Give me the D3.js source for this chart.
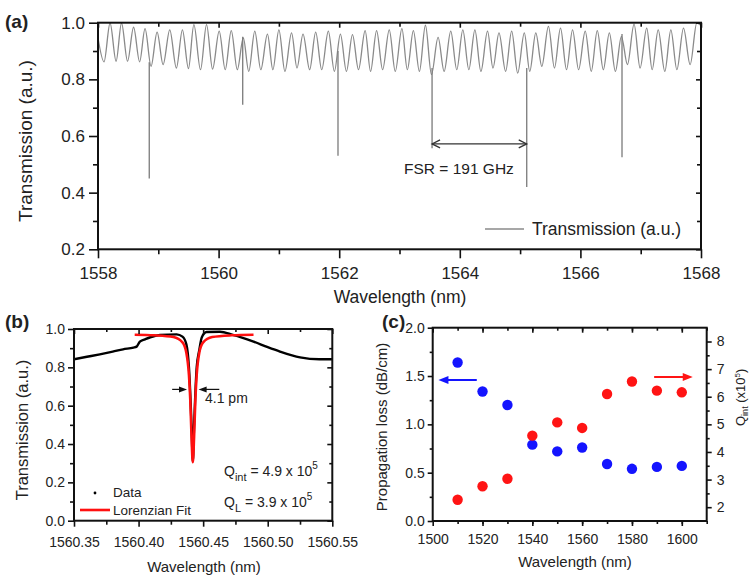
<!DOCTYPE html>
<html>
<head>
<meta charset="utf-8">
<title></title>
<script src="https://d3js.org/d3.v7.min.js"></script>
<style>
  body { margin: 0; background: #fff; }
  text { font-family: "Liberation Sans", Arial, sans-serif; fill: #222; }
</style>
</head>
<body>
<div id="fig"></div>
<script>
// ---- panel (a): broad transmission scan, peaks and troughs of the fringes
var aWl = [1558.00,1558.10,1558.20,1558.30,1558.39,1558.49,1558.59,1558.69,1558.78,1558.88,
  1558.98,1559.08,1559.19,1559.30,1559.40,1559.50,1559.59,1559.70,1559.80,1559.90,
  1560.01,1560.11,1560.21,1560.31,1560.41,1560.50,1560.60,1560.70,1560.81,1560.90,
  1561.00,1561.10,1561.21,1561.30,1561.40,1561.51,1561.61,1561.71,1561.82,1561.92,
  1562.02,1562.12,1562.22,1562.32,1562.43,1562.52,1562.62,1562.72,1562.83,1562.93,
  1563.04,1563.13,1563.23,1563.33,1563.43,1563.53,1563.64,1563.74,1563.85,1563.95,
  1564.05,1564.15,1564.25,1564.35,1564.46,1564.55,1564.65,1564.76,1564.86,1564.96,
  1565.07,1565.16,1565.26,1565.36,1565.47,1565.57,1565.67,1565.77,1565.87,1565.97,
  1566.08,1566.18,1566.28,1566.38,1566.48,1566.58,1566.68,1566.78,1566.89,1566.99,
  1567.10,1567.19,1567.29,1567.40,1567.50,1567.60,1567.71,1567.82,1567.93,1568.00];
var aT = [0.946,0.862,0.999,0.864,0.999,0.864,0.984,0.862,0.979,0.846,
  0.967,0.852,0.975,0.840,0.975,0.838,0.993,0.834,0.993,0.836,
  0.970,0.834,0.972,0.834,0.946,0.828,0.970,0.834,0.960,0.834,
  0.975,0.828,0.964,0.840,0.960,0.834,0.967,0.834,0.970,0.828,
  0.960,0.828,0.958,0.834,0.972,0.828,0.972,0.834,0.975,0.828,
  0.979,0.834,0.972,0.828,0.991,0.817,0.948,0.828,0.970,0.834,
  0.975,0.834,0.975,0.828,0.970,0.840,0.964,0.828,0.970,0.822,
  0.964,0.828,0.964,0.846,0.987,0.840,0.981,0.834,0.975,0.834,
  0.970,0.828,0.972,0.834,0.964,0.828,0.952,0.852,0.995,0.840,
  0.981,0.834,0.975,0.828,0.975,0.834,0.981,0.852,0.999,0.990];

// ring resonances (narrow dips)
var dipWl  = [1558.85, 1560.40, 1561.98, 1563.54, 1565.11, 1566.69];
var dipTop = [0.86, 0.95, 0.90, 0.84, 0.84, 0.96];
var dipMin = [0.45, 0.71, 0.53, 0.557, 0.42, 0.525];

// ---- panel (b): single resonance
var bWl = [1560.350,1560.360,1560.370,1560.380,1560.388,1560.396,1560.3985,1560.401,1560.405,1560.409,
  1560.4166,1560.4295,1560.434,1560.437,1560.439,1560.441,1560.442,1560.443,1560.445,1560.447,
  1560.449,1560.4527,1560.463,1560.473,1560.480,1560.489,1560.500,1560.5095,1560.525,1560.540,1560.550];
var bT = [0.842,0.855,0.868,0.882,0.894,0.903,0.908,0.934,0.946,0.957,
  0.969,0.972,0.960,0.920,0.800,0.500,0.310,0.500,0.800,0.890,
  0.957,0.984,0.986,0.969,0.955,0.934,0.905,0.882,0.852,0.842,0.842];

var fitWl = [1560.397,1560.412,1560.427,1560.434,1560.437,1560.439,1560.440,1560.441,1560.442,
  1560.443,1560.444,1560.445,1560.447,1560.450,1560.457,1560.472,1560.489];
var fitT = [0.970,0.967,0.958,0.930,0.876,0.760,0.635,0.440,0.305,
  0.440,0.635,0.760,0.876,0.930,0.958,0.967,0.970];

// ---- panel (c): loss and Q versus wavelength
var cWl   = [1510, 1520, 1530, 1540, 1550, 1560, 1570, 1580, 1590, 1600];
var lossV = [1.64, 1.34, 1.20, 0.79, 0.72, 0.76, 0.59, 0.54, 0.56, 0.57];
var qV    = [2.27, 2.76, 3.03, 4.59, 5.07, 4.87, 6.10, 6.55, 6.22, 6.16];

var W = 751, H = 578;
var svg = d3.select("#fig").append("svg")
  .attr("width", W).attr("height", H)
  .style("display", "block").style("background", "#fff");

function frame(g, x, y, c) {
  var xa = x.range()[0], xb = x.range()[1];
  var ya = y.range()[0], yb = y.range()[1];
  function ax(axis, tr, vals, size, fmt, pad) {
    var s = g.append("g").attr("transform", tr)
      .call(axis.tickValues(vals).tickSizeInner(size).tickSizeOuter(0)
        .tickPadding(pad || 3).tickFormat(fmt || function() { return ""; }));
    s.select(".domain").remove();
    s.selectAll("line").attr("stroke", "#111").attr("stroke-width", 1.6);
    s.selectAll("text").attr("font-size", c.fs).attr("fill", "#222");
    return s;
  }
  ax(d3.axisBottom(x), "translate(0," + ya + ")", c.xMinor, c.minOut);
  ax(d3.axisBottom(x), "translate(0," + ya + ")", c.xMajor, c.majOut, c.xFmt, c.xPad);
  ax(d3.axisTop(x), "translate(0," + yb + ")", c.xMinor, -c.minIn);
  ax(d3.axisTop(x), "translate(0," + yb + ")", c.xMajor, -c.majIn);
  ax(d3.axisLeft(y), "translate(" + xa + ",0)", c.yMinor, c.minOut);
  ax(d3.axisLeft(y), "translate(" + xa + ",0)", c.yMajor, c.majOut, c.yFmt, c.yPad);
  if (c.yR) {
    ax(d3.axisRight(c.yR), "translate(" + xb + ",0)", c.yRMinor, c.minOut);
    ax(d3.axisRight(c.yR), "translate(" + xb + ",0)", c.yRMajor, c.majOut, c.yRFmt, c.yRPad);
  } else {
    ax(d3.axisRight(y), "translate(" + xb + ",0)", c.yMinor, -c.minIn);
    ax(d3.axisRight(y), "translate(" + xb + ",0)", c.yMajor, -c.majIn);
  }
  g.append("rect").attr("x", xa).attr("y", yb)
    .attr("width", xb - xa).attr("height", ya - yb)
    .attr("fill", "none").attr("stroke", "#111").attr("stroke-width", 2);
}

function clip(id, x, y) {
  svg.append("clipPath").attr("id", id).append("rect")
    .attr("x", x.range()[0]).attr("y", y.range()[1])
    .attr("width", x.range()[1] - x.range()[0])
    .attr("height", y.range()[0] - y.range()[1]);
  return "url(#" + id + ")";
}

function head(g, x, y, dir, len, wid, col) {
  // filled arrow head, tip at (x,y), dir = +1 points right, -1 left
  g.append("path")
    .attr("d", "M" + x + "," + y + "L" + (x - dir * len) + "," + (y - wid / 2) +
      "L" + (x - dir * len) + "," + (y + wid / 2) + "Z")
    .attr("fill", col);
}

// ================= panel (a)
var xA = d3.scaleLinear().domain([1558, 1568]).range([98, 701]);
var yA = d3.scaleLinear().domain([0.2, 1.0]).range([249.3, 22.7]);
var gA = svg.append("g");

var cpA = clip("clipA", xA, yA);
gA.append("path")
  .datum(d3.range(aWl.length))
  .attr("clip-path", cpA)
  .attr("fill", "none").attr("stroke", "#8a8a8a").attr("stroke-width", 1.3)
  .attr("d", d3.line().x(function(i) { return xA(aWl[i]); })
    .y(function(i) { return yA(aT[i]); }).curve(d3.curveMonotoneX));

gA.selectAll(".dip").data(dipWl).enter().append("line")
  .attr("x1", function(d) { return xA(d); }).attr("x2", function(d) { return xA(d); })
  .attr("y1", function(d, i) { return yA(dipTop[i]); })
  .attr("y2", function(d, i) { return yA(dipMin[i]); })
  .attr("stroke", "#7a7a7a").attr("stroke-width", 1.3);

frame(gA, xA, yA, {
  xMajor: d3.range(1558, 1569, 2), xMinor: d3.range(1559, 1568, 2),
  yMajor: [0.2, 0.4, 0.6, 0.8, 1.0], yMinor: [0.3, 0.5, 0.7, 0.9],
  xFmt: d3.format("d"), yFmt: d3.format(".1f"), fs: 17,
  majOut: 9, minOut: 5, majIn: 5, minIn: 4, xPad: 9, yPad: 4
});

// FSR double arrow
var fy = yA(0.572), fx1 = xA(dipWl[3]), fx2 = xA(dipWl[4]);
gA.append("line").attr("x1", fx1).attr("x2", fx2).attr("y1", fy).attr("y2", fy)
  .attr("stroke", "#333").attr("stroke-width", 1.3);
gA.append("path")
  .attr("d", "M" + (fx1 + 8) + "," + (fy - 4) + "L" + fx1 + "," + fy + "L" + (fx1 + 8) + "," + (fy + 4) +
    "M" + (fx2 - 8) + "," + (fy - 4) + "L" + fx2 + "," + fy + "L" + (fx2 - 8) + "," + (fy + 4))
  .attr("fill", "none").attr("stroke", "#333").attr("stroke-width", 1.3);
gA.append("text").attr("x", 404).attr("y", 174).attr("font-size", 15.5).text("FSR = 191 GHz");

// legend
gA.append("line").attr("x1", 485).attr("x2", 524).attr("y1", 229).attr("y2", 229)
  .attr("stroke", "#8a8a8a").attr("stroke-width", 1.3);
gA.append("text").attr("x", 532).attr("y", 235).attr("font-size", 17.5).text("Transmission (a.u.)");

gA.append("text").attr("x", 400).attr("y", 303).attr("text-anchor", "middle")
  .attr("font-size", 17.5).text("Wavelength (nm)");
gA.append("text").attr("transform", "translate(32,141) rotate(-90)").attr("text-anchor", "middle")
  .attr("font-size", 19).text("Transmission (a.u.)");
gA.append("text").attr("x", 5).attr("y", 28).attr("font-size", 19).attr("font-weight", "bold").text("(a)");

// ================= panel (b)
var xB = d3.scaleLinear().domain([1560.35, 1560.55]).range([74, 332.3]);
var yB = d3.scaleLinear().domain([0, 1]).range([520.7, 329]);
var gB = svg.append("g");
var cpB = clip("clipB", xB, yB);

gB.append("path")
  .datum(d3.range(bWl.length))
  .attr("clip-path", cpB)
  .attr("fill", "none").attr("stroke", "#000").attr("stroke-width", 2.4)
  .attr("d", d3.line().x(function(i) { return xB(bWl[i]); })
    .y(function(i) { return yB(bT[i]); }).curve(d3.curveMonotoneX));

gB.append("path")
  .datum(d3.range(fitWl.length))
  .attr("clip-path", cpB)
  .attr("fill", "none").attr("stroke", "#ff1010").attr("stroke-width", 2.6)
  .attr("d", d3.line().x(function(i) { return xB(fitWl[i]); })
    .y(function(i) { return yB(fitT[i]); }).curve(d3.curveMonotoneX));

frame(gB, xB, yB, {
  xMajor: [1560.35, 1560.40, 1560.45, 1560.50, 1560.55],
  xMinor: [1560.375, 1560.425, 1560.475, 1560.525],
  yMajor: [0, 0.2, 0.4, 0.6, 0.8, 1.0], yMinor: [0.1, 0.3, 0.5, 0.7, 0.9],
  xFmt: d3.format(".2f"), yFmt: d3.format(".1f"), fs: 14,
  majOut: 6, minOut: 4, majIn: 5, minIn: 3, xPad: 10, yPad: 3
});

// FWHM arrows
var ay = yB(0.685);
gB.append("line").attr("x1", xB(1560.426)).attr("x2", xB(1560.4375) - 6).attr("y1", ay).attr("y2", ay)
  .attr("stroke", "#111").attr("stroke-width", 1.2);
head(gB, xB(1560.4375), ay, 1, 8, 6, "#111");
gB.append("line").attr("x1", xB(1560.4625)).attr("x2", xB(1560.4465) + 6).attr("y1", ay).attr("y2", ay)
  .attr("stroke", "#111").attr("stroke-width", 1.2);
head(gB, xB(1560.4465), ay, -1, 8, 6, "#111");
gB.append("text").attr("x", 205).attr("y", 403).attr("font-size", 14).text("4.1 pm");

// Q annotations
function qText(x, y, sub, rest) {
  var t = gB.append("text").attr("x", x).attr("y", y).attr("font-size", 14);
  t.append("tspan").text("Q");
  t.append("tspan").attr("dy", 5).attr("font-size", 11).text(sub);
  t.append("tspan").attr("dy", -5).text(" = " + rest + " x 10");
  t.append("tspan").attr("dy", -7).attr("font-size", 10).text("5");
}
qText(224, 476, "int", "4.9");
qText(224, 507, "L", "3.9");

// legend
gB.append("circle").attr("cx", 95).attr("cy", 493).attr("r", 1.4).attr("fill", "#000");
gB.append("text").attr("x", 113).attr("y", 497).attr("font-size", 13.5).text("Data");
gB.append("line").attr("x1", 80).attr("x2", 110).attr("y1", 510).attr("y2", 510)
  .attr("stroke", "#ff1010").attr("stroke-width", 2.6);
gB.append("text").attr("x", 113).attr("y", 515).attr("font-size", 13.5).text("Lorenzian Fit");

gB.append("text").attr("x", 204).attr("y", 572).attr("text-anchor", "middle")
  .attr("font-size", 15).text("Wavelength (nm)");
gB.append("text").attr("transform", "translate(28,430) rotate(-90)").attr("text-anchor", "middle")
  .attr("font-size", 16.5).text("Transmission (a.u.)");
gB.append("text").attr("x", 5).attr("y", 328).attr("font-size", 19).attr("font-weight", "bold").text("(b)");

// ================= panel (c)
var xC = d3.scaleLinear().domain([1500, 1610]).range([432.7, 706.7]);
var yL = d3.scaleLinear().domain([0, 2]).range([521, 327.7]);
var yR = d3.scaleLinear().domain([1.5, 8.5]).range([521, 327.7]);
var gC = svg.append("g");

frame(gC, xC, yL, {
  xMajor: d3.range(1500, 1601, 20), xMinor: d3.range(1510, 1611, 10),
  yMajor: [0, 0.5, 1.0, 1.5, 2.0], yMinor: [0.25, 0.75, 1.25, 1.75],
  xFmt: d3.format("d"), yFmt: d3.format(".1f"), fs: 14,
  majOut: 5, minOut: 3, majIn: 5, minIn: 3, xPad: 8, yPad: 3,
  yR: yR, yRMajor: [2, 3, 4, 5, 6, 7, 8], yRMinor: [2.5, 3.5, 4.5, 5.5, 6.5, 7.5],
  yRFmt: d3.format("d"), yRPad: 5
});

gC.selectAll(".loss").data(cWl).enter().append("circle")
  .attr("cx", function(d) { return xC(d); })
  .attr("cy", function(d, i) { return yL(lossV[i]); })
  .attr("r", 5.2).attr("fill", "#1414ff");
gC.selectAll(".qint").data(cWl).enter().append("circle")
  .attr("cx", function(d) { return xC(d); })
  .attr("cy", function(d, i) { return yR(qV[i]); })
  .attr("r", 5.2).attr("fill", "#ff1414");

// axis direction arrows
var by = yL(1.459);
gC.append("line").attr("x1", xC(1517.7)).attr("x2", xC(1502.3) + 8).attr("y1", by).attr("y2", by)
  .attr("stroke", "#1414ff").attr("stroke-width", 2);
head(gC, xC(1502.3), by, -1, 10, 8, "#1414ff");
var ry = yR(6.715);
gC.append("line").attr("x1", xC(1588.9)).attr("x2", xC(1604.4) - 8).attr("y1", ry).attr("y2", ry)
  .attr("stroke", "#ff1414").attr("stroke-width", 2);
head(gC, xC(1604.4), ry, 1, 10, 8, "#ff1414");

gC.append("text").attr("x", 575).attr("y", 567).attr("text-anchor", "middle")
  .attr("font-size", 15).text("Wavelength (nm)");
gC.append("text").attr("transform", "translate(387,427) rotate(-90)").attr("text-anchor", "middle")
  .attr("font-size", 15).text("Propagation loss (dB/cm)");
var qt = gC.append("text").attr("transform", "translate(745,426) rotate(-90)").attr("font-size", 13);
qt.append("tspan").text("Q");
qt.append("tspan").attr("dy", 3).attr("font-size", 9).text("int");
qt.append("tspan").attr("dy", -3).text(" (x10");
qt.append("tspan").attr("dy", -5).attr("font-size", 8).text("5");
qt.append("tspan").attr("dy", 5).text(")");
gC.append("text").attr("x", 382).attr("y", 328).attr("font-size", 19).attr("font-weight", "bold").text("(c)");
</script>
</body>
</html>
